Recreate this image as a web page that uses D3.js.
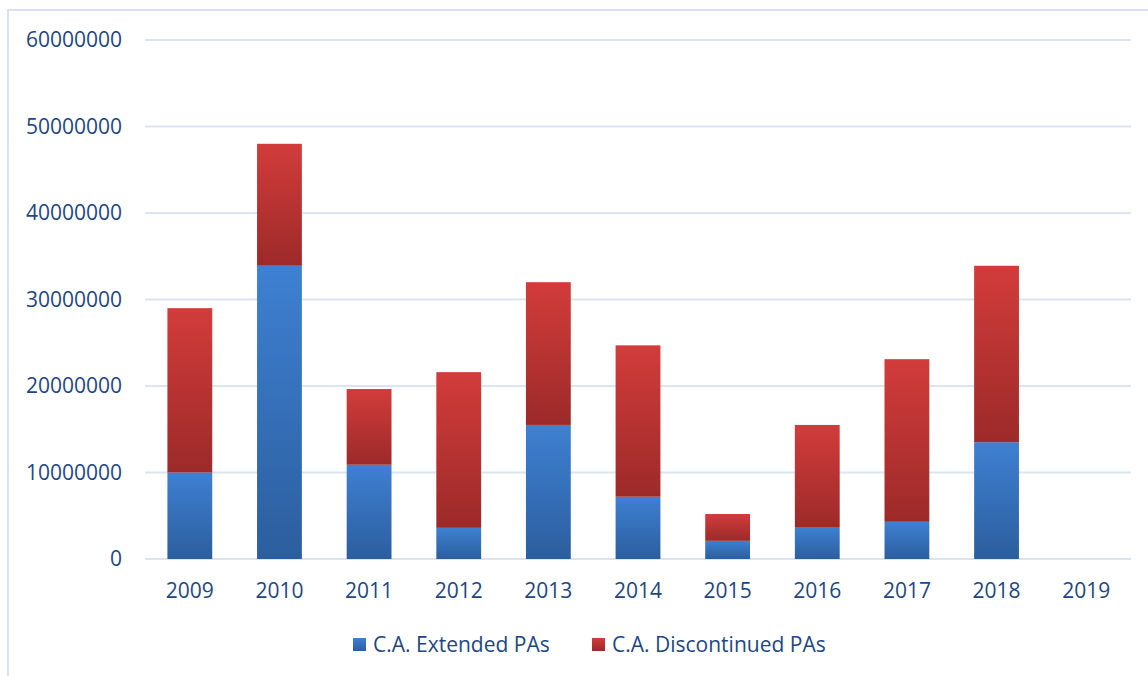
<!DOCTYPE html>
<meta charset="utf-8">
<style>
  body { margin: 0; background: #fff; }
  svg text { font-family: "Open Sans", "Noto Sans", sans-serif; fill: #1d4783; }
  .grid line { stroke: #dbe5f1; stroke-width: 2px; }
</style>
<svg width="1148" height="676"></svg>
<script src="https://cdnjs.cloudflare.com/ajax/libs/d3/7.8.5/d3.min.js"></script>
<script>

  // values
  var years = ["2009", "2010", "2011", "2012", "2013", "2014", "2015", "2016", "2017", "2018", "2019"];
  var extended = [10000000, 33900000, 10900000, 3600000, 15500000, 7200000, 2100000, 3700000, 4300000, 13500000, 0];
  var discontinued = [19000000, 14100000, 8750000, 18000000, 16500000, 17500000, 3100000, 11800000, 18800000, 20400000, 0];
  var yTicks = [0, 10000000, 20000000, 30000000, 40000000, 50000000, 60000000];
  var seriesNames = ["C.A. Extended PAs", "C.A. Discontinued PAs"];

  var svg = d3.select("svg");

  // outer chart border (right/bottom fall outside the crop)
  svg.append("rect")
    .attr("x", 8).attr("y", 10)
    .attr("width", 1160).attr("height", 700)
    .attr("fill", "none")
    .attr("stroke", "#d6e2f1")
    .attr("stroke-width", 2);

  var x = d3.scaleBand()
    .domain(years)
    .range([145, 1131])
    .paddingInner(0.5)
    .paddingOuter(0.25);

  var y = d3.scaleLinear()
    .domain([0, 60000000])
    .range([559, 40]);

  // gradients
  var defs = svg.append("defs");
  function grad(id, top, bottom) {
    var g = defs.append("linearGradient").attr("id", id)
      .attr("x1", 0).attr("y1", 0).attr("x2", 0).attr("y2", 1);
    g.append("stop").attr("offset", "0%").attr("stop-color", top);
    g.append("stop").attr("offset", "100%").attr("stop-color", bottom);
  }
  grad("gBlue", "#3e80d2", "#2c5e9e");
  grad("gRed", "#d23c3b", "#9c2a29");

  // grid
  svg.append("g")
    .attr("class", "grid")
    .selectAll("line")
    .data(yTicks)
    .enter().append("line")
    .attr("x1", 145).attr("x2", 1131)
    .attr("y1", function (d) { return y(d); })
    .attr("y2", function (d) { return y(d); });

  // y labels
  svg.append("g")
    .selectAll("text")
    .data(yTicks)
    .enter().append("text")
    .attr("x", 122)
    .attr("y", function (d) { return y(d); })
    .attr("dy", "0.35em")
    .attr("text-anchor", "end")
    .attr("font-size", 21)
    .text(function (d) { return d; });

  // x labels
  svg.append("g")
    .selectAll("text")
    .data(years)
    .enter().append("text")
    .attr("x", function (d) { return x(d) + x.bandwidth() / 2; })
    .attr("y", 591)
    .attr("dy", "0.35em")
    .attr("text-anchor", "middle")
    .attr("font-size", 21)
    .text(function (d) { return d; });

  var rows = years.map(function (yr, i) {
    return { year: yr, ext: extended[i], dis: discontinued[i] };
  });

  var bars = svg.append("g").selectAll("g")
    .data(rows)
    .enter().append("g");

  bars.append("rect")
    .attr("x", function (d) { return x(d.year); })
    .attr("width", x.bandwidth())
    .attr("y", function (d) { return y(d.ext); })
    .attr("height", function (d) { return y(0) - y(d.ext); })
    .attr("fill", "url(#gBlue)");

  bars.append("rect")
    .attr("x", function (d) { return x(d.year); })
    .attr("width", x.bandwidth())
    .attr("y", function (d) { return y(d.ext + d.dis); })
    .attr("height", function (d) { return y(d.ext) - y(d.ext + d.dis); })
    .attr("fill", "url(#gRed)");

  // legend
  var legendX = [353, 592];
  var legend = svg.append("g").selectAll("g")
    .data(seriesNames)
    .enter().append("g")
    .attr("transform", function (d, i) { return "translate(" + legendX[i] + ",638)"; });

  legend.append("rect")
    .attr("width", 13).attr("height", 13)
    .attr("fill", function (d, i) { return i === 0 ? "url(#gBlue)" : "url(#gRed)"; });

  legend.append("text")
    .attr("x", 20)
    .attr("y", 7)
    .attr("dy", "0.35em")
    .attr("font-size", 21)
    .text(function (d) { return d; });

</script>
